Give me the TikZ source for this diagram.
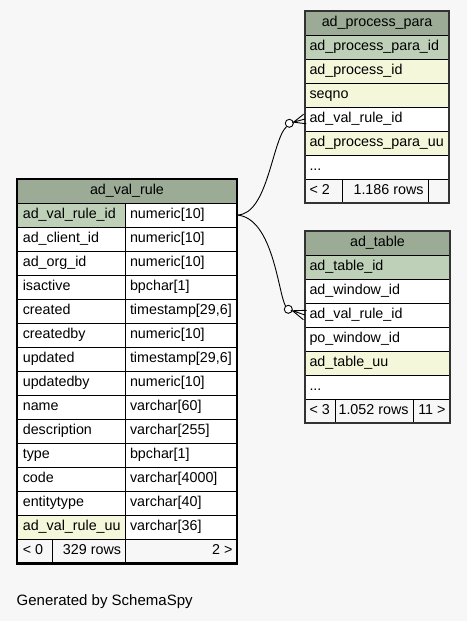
\documentclass[tikz,border=0pt]{standalone}
\usepackage{fontspec}
\setmainfont{Liberation Sans}
\usetikzlibrary{calc}
\definecolor{bgc}{HTML}{F7F7F7}
\definecolor{hdc}{HTML}{9BAB96}
\definecolor{pkc}{HTML}{BED1B8}
\definecolor{ixc}{HTML}{F4F7DA}
\newcommand\tabfnt{\fontsize{14.3pt}{16pt}\selectfont}
\newcommand\tcL[6]{\node[#5, minimum width=#3pt] (#4) at (#1,#2) {\makebox[\dimexpr#3pt-9pt\relax][l]{#6}};}
\newcommand\tcLv[6]{\node[#5, minimum width=#3pt] (#4) at (#1,#2) {\makebox[\dimexpr#3pt-9pt\relax][l]{\hspace{1.3pt}#6}};}
\newcommand\tcR[6]{\node[#5, minimum width=#3pt] (#4) at (#1,#2) {\makebox[\dimexpr#3pt-9pt\relax][r]{#6}};}
\newcommand\tcC[6]{\node[#5, minimum width=#3pt] (#4) at (#1,#2) {\makebox[\dimexpr#3pt-9pt\relax][c]{#6}};}
\tikzset{
  cell/.style={draw=black, line width=0.8pt, anchor=north west, minimum height=24pt,
    inner xsep=4.5pt, inner ysep=0pt, text height=10.4pt, text depth=3.4pt,
    font=\tabfnt, outer sep=0pt},
  hdcell/.style={cell, fill=hdc},
  pkcell/.style={cell, fill=pkc},
  ixcell/.style={cell, fill=ixc},
  plcell/.style={cell, fill=white},
  ftcell/.style={cell, fill=bgc},
  rel/.style={draw=black, line width=0.9pt},
  dotend/.style={circle, draw=black, fill=white, line width=0.9pt, minimum size=8pt, inner sep=0pt},
}
\begin{document}
\begin{tikzpicture}[x=1pt,y=-1pt]
\fill[bgc] (0,0) rectangle (467,621);
\useasboundingbox (0,0) rectangle (467,621);

% ---------- ad_val_rule ----------
\tcC{17}{179}{220}{vrh}{hdcell}{ad\_val\_rule}
\tcLv{17}{203}{108.5}{vr0n}{pkcell}{ad\_val\_rule\_id}
\tcL{125.5}{203}{111.5}{vr0t}{plcell}{numeric[10]}
\tcLv{17}{227}{108.5}{vr1n}{plcell}{ad\_client\_id}
\tcL{125.5}{227}{111.5}{vr1t}{plcell}{numeric[10]}
\tcLv{17}{251}{108.5}{vr2n}{plcell}{ad\_org\_id}
\tcL{125.5}{251}{111.5}{vr2t}{plcell}{numeric[10]}
\tcLv{17}{275}{108.5}{vr3n}{plcell}{isactive}
\tcL{125.5}{275}{111.5}{vr3t}{plcell}{bpchar[1]}
\tcLv{17}{299}{108.5}{vr4n}{plcell}{created}
\tcL{125.5}{299}{111.5}{vr4t}{plcell}{timestamp[29,6]}
\tcLv{17}{323}{108.5}{vr5n}{plcell}{createdby}
\tcL{125.5}{323}{111.5}{vr5t}{plcell}{numeric[10]}
\tcLv{17}{347}{108.5}{vr6n}{plcell}{updated}
\tcL{125.5}{347}{111.5}{vr6t}{plcell}{timestamp[29,6]}
\tcLv{17}{371}{108.5}{vr7n}{plcell}{updatedby}
\tcL{125.5}{371}{111.5}{vr7t}{plcell}{numeric[10]}
\tcLv{17}{395}{108.5}{vr8n}{plcell}{name}
\tcL{125.5}{395}{111.5}{vr8t}{plcell}{varchar[60]}
\tcLv{17}{419}{108.5}{vr9n}{plcell}{description}
\tcL{125.5}{419}{111.5}{vr9t}{plcell}{varchar[255]}
\tcLv{17}{443}{108.5}{vr10n}{plcell}{type}
\tcL{125.5}{443}{111.5}{vr10t}{plcell}{bpchar[1]}
\tcLv{17}{467}{108.5}{vr11n}{plcell}{code}
\tcL{125.5}{467}{111.5}{vr11t}{plcell}{varchar[4000]}
\tcLv{17}{491}{108.5}{vr12n}{plcell}{entitytype}
\tcL{125.5}{491}{111.5}{vr12t}{plcell}{varchar[40]}
\tcLv{17}{515}{108.5}{vr13n}{ixcell}{ad\_val\_rule\_uu}
\tcL{125.5}{515}{111.5}{vr13t}{plcell}{varchar[36]}
\tcLv{17}{539}{35.7}{vrf1}{ftcell}{< 0}
\tcR{52.7}{539}{72.8}{vrf2}{ftcell}{329 rows}
\tcR{125.5}{539}{111.5}{vrf3}{ftcell}{2 >}
\draw[line width=2.6pt] (17,179) rectangle (237,563.5);

% ---------- ad_process_para ----------
\tcC{305}{11}{144}{pph}{hdcell}{ad\_process\_para}
\tcL{305}{35}{144}{pp1}{pkcell}{ad\_process\_para\_id}
\tcL{305}{59}{144}{pp2}{ixcell}{ad\_process\_id}
\tcL{305}{83}{144}{pp3}{ixcell}{seqno}
\tcL{305}{107}{144}{pp4}{plcell}{ad\_val\_rule\_id}
\tcL{305}{131}{144}{pp5}{ixcell}{ad\_process\_para\_uu}
\tcL{305}{155}{144}{pp6}{plcell}{...}
\tcL{305}{179}{37}{ppf1}{ftcell}{< 2}
\tcR{342}{179}{86}{ppf2}{ftcell}{1.186 rows}
\tcR{428}{179}{21}{ppf3}{ftcell}{}
\draw[line width=1.1pt, draw=black!80] (305,11) rectangle (449,203);

% ---------- ad_table ----------
\tcC{305}{231}{145}{ath}{hdcell}{ad\_table}
\tcL{305}{255}{145}{at1}{pkcell}{ad\_table\_id}
\tcL{305}{279}{145}{at2}{plcell}{ad\_window\_id}
\tcL{305}{303}{145}{at3}{plcell}{ad\_val\_rule\_id}
\tcL{305}{327}{145}{at4}{plcell}{po\_window\_id}
\tcL{305}{351}{145}{at5}{ixcell}{ad\_table\_uu}
\tcL{305}{375}{145}{at6}{plcell}{...}
\tcL{305}{399}{30}{atf1}{ftcell}{< 3}
\tcR{335}{399}{78}{atf2}{ftcell}{1.052 rows}
\tcR{413}{399}{37}{atf3}{ftcell}{11 >}
\draw[line width=1.1pt, draw=black!80] (305,231) rectangle (450,423);

% ---------- relationships ----------
\node[dotend] (c1) at (289.3,123.3) {};
\node[dotend] (c2) at (288.3,309.3) {};
\draw[rel] (vr0t.east) .. controls (268,215) and (272,140) .. (c1.230);
\draw[rel] (vr0t.east) .. controls (273,218) and (278,292) .. (c2.130);
\draw[rel] ($(pp4.west)+(-1.3,-4.8)$) -- (c1.15) -- (pp4.west);
\draw[rel] (c1.15) -- ($(pp4.west)+(1.3,4.8)$);
\draw[rel] ($(at3.west)+(1.6,-4.7)$) -- (c2.-19) -- (at3.west);
\draw[rel] (c2.-19) -- ($(at3.west)+(-1.6,4.7)$);

\node[anchor=base west, inner sep=0pt, font=\fontsize{15pt}{18pt}\selectfont] (gen) at (16.5,605) {Generated by SchemaSpy};
\end{tikzpicture}
\end{document}
